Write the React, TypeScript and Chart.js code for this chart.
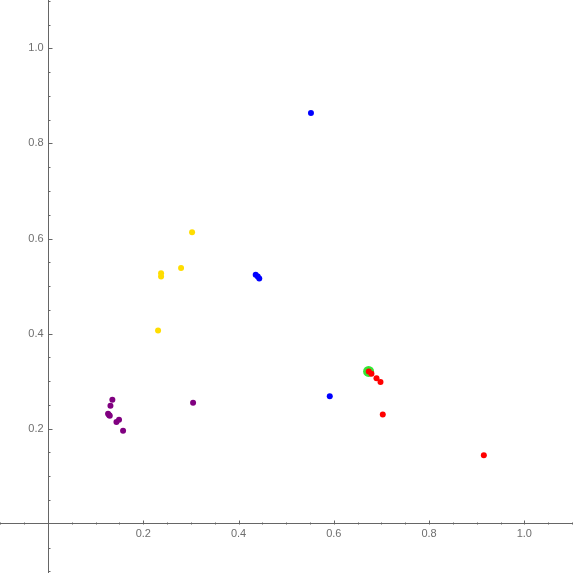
import React, { useEffect, useRef } from "react";
import { Chart, registerables } from "chart.js";

Chart.register(...registerables);

// ---- data ----
const purpleX = [0.135, 0.131, 0.126, 0.1296, 0.128, 0.1436, 0.149, 0.1575, 0.3045];
const purpleY = [0.261, 0.248, 0.2315, 0.227, 0.229, 0.2139, 0.219, 0.1958, 0.2546];

const yellowX = [0.3024, 0.2793, 0.2373, 0.2373, 0.231];
const yellowY = [0.613, 0.538, 0.527, 0.52, 0.4065];

const blueX = [0.552, 0.436, 0.4403, 0.4435, 0.5915];
const blueY = [0.864, 0.524, 0.52, 0.5158, 0.268];

const redX = [0.6734, 0.679, 0.6896, 0.698, 0.7028, 0.915];
const redY = [0.3204, 0.3155, 0.3063, 0.298, 0.23, 0.144];

const greenX = [0.673];
const greenY = [0.3205];

const xTickValues = [0.2, 0.4, 0.6, 0.8, 1.0];
const xTickLabels = ["0.2", "0.4", "0.6", "0.8", "1.0"];
const yTickValues = [0.2, 0.4, 0.6, 0.8, 1.0];
const yTickLabels = ["0.2", "0.4", "0.6", "0.8", "1.0"];
const minorTickValues = [
  -0.1, -0.05, 0.05, 0.1, 0.15, 0.2, 0.25, 0.3, 0.35, 0.4, 0.45, 0.5, 0.55,
  0.6, 0.65, 0.7, 0.75, 0.8, 0.85, 0.9, 0.95, 1.0, 1.05, 1.1,
];

const AXIS_COLOR = "#666666";
const LABEL_COLOR = "#6e6e6e";
const Y_LABEL_GAP = 4.5;

const toPoints = (xs: number[], ys: number[]) => xs.map((x, i) => ({ x, y: ys[i] }));

const tickMarksPlugin = {
  id: "tickMarks",
  afterDraw(chart: any) {
    const xs = chart.scales.x;
    const ys = chart.scales.y;
    const ctx = chart.ctx;
    const x0 = Math.round(xs.getPixelForValue(0)) + 0.5;
    const y0 = Math.round(ys.getPixelForValue(0)) + 0.5;
    ctx.save();
    ctx.strokeStyle = AXIS_COLOR;
    ctx.lineWidth = 1;
    ctx.beginPath();
    for (const v of minorTickValues) {
      const major = xTickValues.some((t) => Math.abs(t - v) < 1e-9);
      const len = major ? 4 : 2;
      const px = Math.round(xs.getPixelForValue(v)) + 0.5;
      ctx.moveTo(px, y0);
      ctx.lineTo(px, y0 - len);
      const majorY = yTickValues.some((t) => Math.abs(t - v) < 1e-9);
      const leny = majorY ? 4 : 2;
      const py = Math.round(ys.getPixelForValue(v)) + 0.5;
      ctx.moveTo(x0, py);
      ctx.lineTo(x0 + leny, py);
    }
    ctx.stroke();
    ctx.restore();
  },
};

export default function App() {
  const ref = useRef<HTMLCanvasElement | null>(null);

  useEffect(() => {
    if (!ref.current) return;
    const mk = (label: string, xs: number[], ys: number[], color: string, r: number) => ({
      label,
      data: toPoints(xs, ys),
      backgroundColor: color,
      borderColor: color,
      borderWidth: 0,
      pointRadius: r,
      pointHoverRadius: r,
    });
    const chart = new Chart(ref.current, {
      type: "scatter",
      data: {
        datasets: [
          mk("purple", purpleX, purpleY, "#800080", 3),
          mk("yellow", yellowX, yellowY, "#FFDD00", 3),
          mk("blue", blueX, blueY, "#0000FF", 3),
          mk("red", redX, redY, "#FF0000", 3),
          mk("green", greenX, greenY, "#33E633", 5.5),
        ],
      },
      plugins: [tickMarksPlugin],
      options: {
        animation: false,
        responsive: false,
        devicePixelRatio: 1,
        layout: { padding: 0, autoPadding: false },
        plugins: {
          legend: { display: false },
          tooltip: { enabled: false },
          title: { display: false },
        },
        scales: {
          x: {
            type: "linear",
            min: -0.1009,
            max: 1.1022,
            position: { y: 0 } as any,
            grid: { display: false, drawTicks: false },
            border: { display: true, color: AXIS_COLOR, width: 1 },
            afterBuildTicks: (scale: any) => {
              scale.ticks = xTickValues.map((v) => ({ value: v }));
            },
            ticks: {
              autoSkip: false,
              maxRotation: 0,
              padding: 4,
              color: LABEL_COLOR,
              font: { family: "'Liberation Sans', Arial, sans-serif", size: 11 },
              callback: (_v: any, i: number) => xTickLabels[i],
            },
          },
          y: {
            type: "linear",
            min: -0.1035,
            max: 1.1016,
            position: { x: 0 } as any,
            grid: { display: false, drawTicks: false },
            border: { display: true, color: AXIS_COLOR, width: 1 },
            afterBuildTicks: (scale: any) => {
              scale.ticks = yTickValues.map((v) => ({ value: v }));
            },
            afterUpdate: (scale: any) => {
              if (scale.__wrappedLabels) return;
              const orig = scale.getLabelItems;
              scale.getLabelItems = function (ca: any) {
                const items = orig.call(this, ca);
                for (const it of items) {
                  if (!it.__shifted) {
                    const t = it.options.translation;
                    it.options.translation = [t[0] - Y_LABEL_GAP, t[1]];
                    it.__shifted = true;
                  }
                }
                return items;
              };
              scale.__wrappedLabels = true;
            },
            ticks: {
              autoSkip: false,
              padding: 0,
              color: LABEL_COLOR,
              font: { family: "'Liberation Sans', Arial, sans-serif", size: 11, lineHeight: 0 },
              callback: (_v: any, i: number) => yTickLabels[i],
            },
          },
        },
      },
    });
    return () => chart.destroy();
  }, []);

  return (
    <div style={{ position: "fixed", left: 0, top: 0, width: 573, height: 573, background: "#fff" }}>
      <canvas ref={ref} width={573} height={573} style={{ display: "block", width: 573, height: 573 }} />
    </div>
  );
}
